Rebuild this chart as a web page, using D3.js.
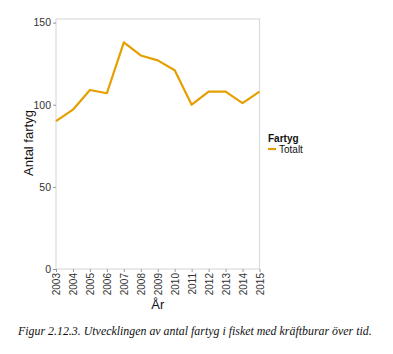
<!DOCTYPE html>
<html>
<head>
<meta charset="utf-8">
<script src="https://cdn.jsdelivr.net/npm/d3@7"></script>
<style>
  body { margin: 0; background: #fff; }
  svg { display: block; font-family: "Liberation Sans", Arial, sans-serif; }
</style>
</head>
<body>
<svg id="chart" width="393" height="354"></svg>
<script>
const years = [2003, 2004, 2005, 2006, 2007, 2008, 2009, 2010, 2011, 2012, 2013, 2014, 2015];
const totalt = [90, 97, 109, 107, 138, 130, 127, 121, 100, 108, 108, 101, 108];
const yTicks = [0, 50, 100, 150];

const svg = d3.select('#chart');
const plotLeft = 56;
const plotRight = 259.5;
const plotTop = 19;
const plotBottom = 269;

const x = d3.scaleLinear().domain([2003, 2015]).range([plotLeft, plotRight]);
const y = d3.scaleLinear().domain([0, 152.2]).range([plotBottom, plotTop]);

// panel border
svg.append('rect')
  .attr('x', plotLeft).attr('y', plotTop)
  .attr('width', plotRight - plotLeft).attr('height', plotBottom - plotTop)
  .attr('fill', '#fff')
  .attr('stroke', '#dcdcdc')
  .attr('stroke-width', 1.2);

// y axis
const yAxis = svg.append('g')
  .attr('transform', `translate(${plotLeft},0)`)
  .call(d3.axisLeft(y).tickValues(yTicks).tickSize(3).tickPadding(2));
yAxis.select('.domain').remove();
yAxis.selectAll('line').attr('stroke', '#999');
yAxis.selectAll('text')
  .attr('fill', '#333')
  .style('font-size', '10.5px')
  .style('font-family', '"Liberation Sans", Arial, sans-serif');

// x axis, labels turned upright
const xAxis = svg.append('g')
  .attr('transform', `translate(0,${plotBottom})`)
  .call(d3.axisBottom(x).tickValues(years).tickFormat(d3.format('d')).tickSize(3));
xAxis.select('.domain').remove();
xAxis.selectAll('line').attr('stroke', '#999');
xAxis.selectAll('text')
  .attr('fill', '#333')
  .style('font-size', '10px')
  .style('font-family', '"Liberation Sans", Arial, sans-serif')
  .attr('transform', 'rotate(-90)')
  .attr('text-anchor', 'end')
  .attr('x', -4)
  .attr('y', 0)
  .attr('dy', '0.35em');

// line
const line = d3.line()
  .x((d, i) => x(years[i]))
  .y((d) => y(d));

svg.append('path')
  .datum(totalt)
  .attr('d', line)
  .attr('fill', 'none')
  .attr('stroke', '#E69F00')
  .attr('stroke-width', 2.2)
  .attr('stroke-linejoin', 'round');

// axis titles
svg.append('text')
  .attr('x', (plotLeft + plotRight) / 2)
  .attr('y', 309)
  .attr('text-anchor', 'middle')
  .attr('fill', '#111')
  .style('font-size', '13px')
  .text('År');

svg.append('text')
  .attr('transform', `translate(33,${(plotTop + plotBottom) / 2 - 1}) rotate(-90)`)
  .attr('text-anchor', 'middle')
  .attr('fill', '#111')
  .style('font-size', '13px')
  .text('Antal fartyg');

// legend
svg.append('text')
  .attr('x', 268)
  .attr('y', 142)
  .attr('fill', '#111')
  .style('font-size', '10px')
  .style('font-weight', 'bold')
  .text('Fartyg');

svg.append('line')
  .attr('x1', 268).attr('x2', 276)
  .attr('y1', 149).attr('y2', 149)
  .attr('stroke', '#E69F00')
  .attr('stroke-width', 2.2);

svg.append('text')
  .attr('x', 279)
  .attr('y', 153)
  .attr('fill', '#111')
  .style('font-size', '10px')
  .text('Totalt');

// caption
svg.append('text')
  .attr('x', 18)
  .attr('y', 335)
  .attr('fill', '#111')
  .style('font-family', '"Liberation Serif", "Times New Roman", serif')
  .style('font-style', 'italic')
  .style('font-size', '11.9px')
  .text('Figur 2.12.3. Utvecklingen av antal fartyg i fisket med kräftburar över tid.');
</script>
</body>
</html>
